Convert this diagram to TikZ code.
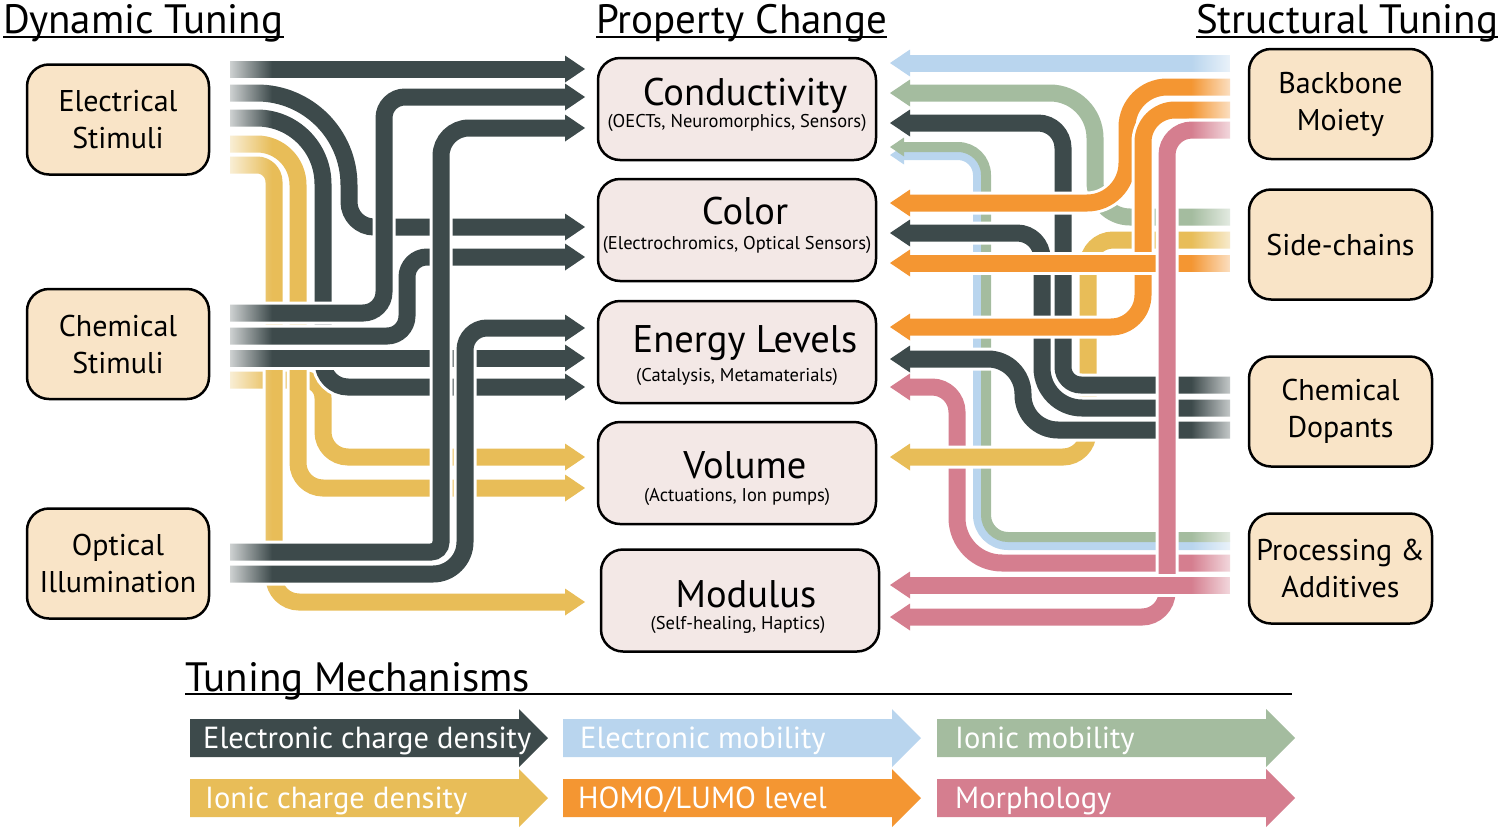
\documentclass[tikz,border=0pt]{standalone}
\usepackage{fontspec}
\setmainfont{PT Sans}
\usetikzlibrary{arrows.meta,fadings}

\definecolor{slate}{RGB}{61,74,75}
\definecolor{mustard}{RGB}{232,189,88}
\definecolor{tangerine}{RGB}{244,150,50}
\definecolor{rosepink}{RGB}{213,126,143}
\definecolor{sage}{RGB}{164,188,159}
\definecolor{skyblue}{RGB}{185,213,238}
\definecolor{peach}{RGB}{249,228,199}
\definecolor{blush}{RGB}{243,232,230}

\tikzset{
  tunebox/.style={draw=black, line width=2.5pt, rounded corners=22pt, fill=peach,
    minimum width=182pt, minimum height=110pt, align=center,
    font=\fontsize{30}{37}\selectfont},
  propbox/.style={draw=black, line width=2.5pt, rounded corners=22pt, fill=blush,
    minimum width=278pt, minimum height=102pt},
  proptitle/.style={anchor=base, inner sep=0pt, font=\fontsize{38.5}{40}\selectfont},
  propsub/.style={anchor=base, inner sep=0pt, font=\fontsize{18.5}{21}\selectfont},
  heading/.style={anchor=base west, inner sep=0pt, font=\fontsize{41}{45}\selectfont},
  wire/.style={line width=17pt, preaction={draw=white, line width=23pt},
    -{Triangle[width=27pt,length=20pt,line width=0pt]}},
  fine/.style={line width=10pt, -{Triangle[width=19pt,length=14pt,line width=0pt]}},
  legtext/.style={anchor=base west, inner sep=0pt, text=white,
    font=\fontsize{30.5}{32}\selectfont},
}

\begin{document}
\begin{tikzpicture}[x=1pt,y=-1pt]
\useasboundingbox (0,0) rectangle (1501,828);

 % dynamic side, wire starts
  \coordinate (E1) at (230,69);
  \coordinate (E2) at (230,93);
  \coordinate (E3) at (230,118);
  \coordinate (E4) at (230,144);
  \coordinate (E5) at (230,165);
  \coordinate (C1) at (230,313);
  \coordinate (C2) at (230,336);
  \coordinate (C3) at (230,358);
  \coordinate (C4) at (230,380);
  \coordinate (O1) at (230,552);
  \coordinate (O2) at (230,574);
 % dynamic side, arrow tips
  \coordinate (CD1) at (585,69);
  \coordinate (CD2) at (585,97);
  \coordinate (CD3) at (585,128);
  \coordinate (CL1) at (585,227);
  \coordinate (CL2) at (585,257);
  \coordinate (EN1) at (585,328);
  \coordinate (EN2) at (585,358);
  \coordinate (EN3) at (585,387);
  \coordinate (VO1) at (585,457);
  \coordinate (VO2) at (585,488);
  \coordinate (MO1) at (585,602);
 % dynamic side, bends
  \coordinate (K6) at (384,97);
  \coordinate (K7) at (407,257);

 % yellow first
  \draw[wire, mustard] (C4) -- (305,380) arc[start angle=-90, end angle=0, radius=18]
    -- (323,432) arc[start angle=180, end angle=90, radius=25] -- (VO1);
  \draw[wire, mustard] (E4) -- (257,144) arc[start angle=-90, end angle=0, radius=41]
    -- (298,463) arc[start angle=180, end angle=90, radius=25] -- (VO2);
  \draw[wire, mustard] (E5) -- (257,165) arc[start angle=-90, end angle=0, radius=17]
    -- (274,577) arc[start angle=180, end angle=90, radius=25] -- (MO1);
 % dark
  \draw[wire, slate] (E1) -- (CD1);
  \draw[wire, slate] (E2) -- (257,93) arc[start angle=-90, end angle=0, radius=92]
    -- (349,202) arc[start angle=180, end angle=90, radius=25] -- (CL1);
  \draw[wire, slate] (E3) -- (257,118) arc[start angle=-90, end angle=0, radius=66]
    -- (323,362) arc[start angle=180, end angle=90, radius=25] -- (EN3);
  \draw[wire, slate, rounded corners=21pt] (C1) -| (K6) -- (CD2);
  \draw[wire, slate, rounded corners=20pt] (C2) -| (K7) -- (CL2);
  \draw[wire, slate] (C3) -- (EN2);
  \draw[wire, slate] (O1) -- (431,552) arc[start angle=90, end angle=0, radius=10]
    -- (441,156) arc[start angle=180, end angle=270, radius=28] -- (CD3);
  \draw[wire, slate] (O2) -- (433,574) arc[start angle=90, end angle=0, radius=32]
    -- (465,350) arc[start angle=180, end angle=270, radius=22] -- (EN1);

 % structural side, wire starts
  \coordinate (B1) at (1230,63);
  \coordinate (B2) at (1230,87);
  \coordinate (B3) at (1230,110);
  \coordinate (B4) at (1230,130);
  \coordinate (S1) at (1230,217);
  \coordinate (S2) at (1230,240);
  \coordinate (S3) at (1230,263);
  \coordinate (D1) at (1230,385);
  \coordinate (D2) at (1230,408);
  \coordinate (D3) at (1230,430);
  \coordinate (PG) at (1230,537);
  \coordinate (PB) at (1230,545);
  \coordinate (P1) at (1230,563);
  \coordinate (P2) at (1230,585);
 % structural side, arrow tips
  \coordinate (RC1) at (890,63);
  \coordinate (RC2) at (890,93);
  \coordinate (RC3) at (890,123);
  \coordinate (RCG) at (890,147);
  \coordinate (RCB) at (890,155);
  \coordinate (RL1) at (890,203);
  \coordinate (RL2) at (890,233);
  \coordinate (RL3) at (890,263);
  \coordinate (RN1) at (890,327);
  \coordinate (RN2) at (890,359);
  \coordinate (RN3) at (890,387);
  \coordinate (RV1) at (890,457);
  \coordinate (RM1) at (890,585);
  \coordinate (RM2) at (890,617);
 % structural side, bends
  \coordinate (Q2) at (1127,203);
  \coordinate (Q3) at (1143,327);
  \coordinate (Q4) at (1167,617);
  \coordinate (Q6) at (1088,457);
  \coordinate (Q9) at (1023,359);

 % processing pair (blue under green)
  \draw[fine, skyblue] (PB) -- (1008,545) arc[start angle=90, end angle=180, radius=30]
    -- (978,175) arc[start angle=0, end angle=-90, radius=20] -- (RCB);
  \draw[fine, sage] (PG) -- (1008,537) arc[start angle=90, end angle=180, radius=22]
    -- (986,175) arc[start angle=0, end angle=-90, radius=28] -- (RCG);
  \draw[wire, sage] (S1) -- (1130,217) arc[start angle=90, end angle=180, radius=35]
    -- (1095,138) arc[start angle=0, end angle=-90, radius=45] -- (RC2);
  \draw[wire, rosepink] (P1) -- (1002,563) arc[start angle=90, end angle=180, radius=45]
    -- (957,412) arc[start angle=0, end angle=-90, radius=25] -- (RN3);
  \draw[wire, mustard, rounded corners=25pt] (S2) -| (Q6) -- (RV1);
 % dopants
  \draw[wire, slate] (D1) -- (1081,385) arc[start angle=90, end angle=180, radius=18]
    -- (1063,148) arc[start angle=0, end angle=-90, radius=25] -- (RC3);
  \draw[wire, slate] (D2) -- (1082,408) arc[start angle=90, end angle=180, radius=40]
    -- (1042,258) arc[start angle=0, end angle=-90, radius=25] -- (RL2);
  \draw[wire, slate, rounded corners=35pt] (D3) -| (Q9) -- (RN2);
 % backbone + side-chains
  \draw[wire, tangerine, rounded corners=40pt] (B2) -| (Q2) -- (RL1);
  \draw[wire, tangerine, rounded corners=32pt] (B3) -| (Q3) -- (RN1);
  \draw[wire, tangerine] (S3) -- (RL3);
  \draw[wire, rosepink, rounded corners=25pt] (B4) -| (Q4) -- (RM2);
  \draw[wire, rosepink] (P2) -- (RM1);
  \draw[wire, skyblue] (B1) -- (RC1);

 % fade the loose ends
  \fill[white, path fading=east] (216,50) rectangle (272,592);
  \fill[white, path fading=west] (1191,45) rectangle (1247,632);

 % boxes
  \node[tunebox] (elec) at (118,119.5) {Electrical\\Stimuli};
  \node[tunebox] (chem) at (118,344) {Chemical\\Stimuli};
  \node[tunebox] (optic) at (118,563.5) {Optical\\Illumination};

  \node[tunebox, minimum width=183pt] (backbone) at (1340.5,104) {Backbone\\Moiety};
  \node[tunebox, minimum width=183pt] (side) at (1340.5,244.5) {Side-chains};
  \node[tunebox, minimum width=183pt] (dopant) at (1340.5,411.5) {Chemical\\Dopants};
  \node[tunebox, minimum width=183pt] (process) at (1340.5,568.5) {Processing \&\\Additives};

  \node[propbox] (cond) at (737,109) {};
  \node[proptitle] (condt) at ([xshift=8pt,yshift=4pt]cond.center) {Conductivity};
  \node[propsub] (conds) at ([yshift=-18pt]cond.center) {(OECTs, Neuromorphics, Sensors)};
  \node[propbox] (color) at (737,230) {};
  \node[proptitle] (colort) at ([xshift=8pt,yshift=6pt]color.center) {Color};
  \node[propsub] (colors) at ([yshift=-19pt]color.center) {(Electrochromics, Optical Sensors)};
  \node[propbox] (energy) at (737,352) {};
  \node[proptitle] (energyt) at ([xshift=8pt]energy.center) {Energy Levels};
  \node[propsub] (energys) at ([yshift=-29pt]energy.center) {(Catalysis, Metamaterials)};
  \node[propbox] (volume) at (737,473) {};
  \node[proptitle] (volumet) at ([xshift=8pt,yshift=-5pt]volume.center) {Volume};
  \node[propsub] (volumes) at ([yshift=-28pt]volume.center) {(Actuations, Ion pumps)};
  \node[propbox] (modulus) at (740,600.5) {};
  \node[proptitle] (modulust) at ([xshift=6pt,yshift=-6.5pt]modulus.center) {Modulus};
  \node[propsub] (moduluss) at ([xshift=-2pt,yshift=-28.5pt]modulus.center) {(Self-healing, Haptics)};

 % headings
  \node[heading] (dyn) at (3,33) {Dynamic Tuning};
  \node[heading] (prop) at (596,33) {Property Change};
  \node[heading] (struct) at (1196,33) {Structural Tuning};
  \draw[line width=2pt] ([yshift=-4pt]dyn.base west) -- ([yshift=-4pt]dyn.base east);
  \draw[line width=2pt] ([yshift=-4pt]prop.base west) -- ([yshift=-4pt]prop.base east);
  \draw[line width=2pt] ([yshift=-4pt]struct.base west) -- ([yshift=-4pt]struct.base east);

 % legend
  \node[heading] (mech) at (185,691) {Tuning Mechanisms};
  \coordinate (mechend) at (1292,694);
  \draw[line width=1.5pt] ([yshift=-3pt]mech.base west) -- (mechend);

  \coordinate (M1) at (190,738);
  \coordinate (M2) at (563,738);
  \coordinate (M3) at (937,738);
  \coordinate (M4) at (190,798);
  \coordinate (M5) at (563,798);
  \coordinate (M6) at (937,798);
  \fill[slate] ([yshift=19pt]M1) -- ++(329,0) -- ++(0,-10) -- ++(29,29) -- ++(-29,29) -- ++(0,-10) -- ++(-329,0) -- cycle;
  \fill[skyblue] ([yshift=19pt]M2) -- ++(329,0) -- ++(0,-10) -- ++(29,29) -- ++(-29,29) -- ++(0,-10) -- ++(-329,0) -- cycle;
  \fill[sage] ([yshift=19pt]M3) -- ++(329,0) -- ++(0,-10) -- ++(29,29) -- ++(-29,29) -- ++(0,-10) -- ++(-329,0) -- cycle;
  \fill[mustard] ([yshift=19pt]M4) -- ++(329,0) -- ++(0,-10) -- ++(29,29) -- ++(-29,29) -- ++(0,-10) -- ++(-329,0) -- cycle;
  \fill[tangerine] ([yshift=19pt]M5) -- ++(329,0) -- ++(0,-10) -- ++(29,29) -- ++(-29,29) -- ++(0,-10) -- ++(-329,0) -- cycle;
  \fill[rosepink] ([yshift=19pt]M6) -- ++(329,0) -- ++(0,-10) -- ++(29,29) -- ++(-29,29) -- ++(0,-10) -- ++(-329,0) -- cycle;
  \node[legtext] (M1t) at ([xshift=13pt,yshift=-10pt]M1) {Electronic charge density};
  \node[legtext] (M2t) at ([xshift=17pt,yshift=-10pt]M2) {Electronic mobility};
  \node[legtext] (M3t) at ([xshift=18pt,yshift=-10pt]M3) {Ionic mobility};
  \node[legtext] (M4t) at ([xshift=15pt,yshift=-10pt]M4) {Ionic charge density};
  \node[legtext] (M5t) at ([xshift=15pt,yshift=-10pt]M5) {HOMO/LUMO level};
  \node[legtext] (M6t) at ([xshift=18pt,yshift=-10pt]M6) {Morphology};
\end{tikzpicture}
\end{document}
